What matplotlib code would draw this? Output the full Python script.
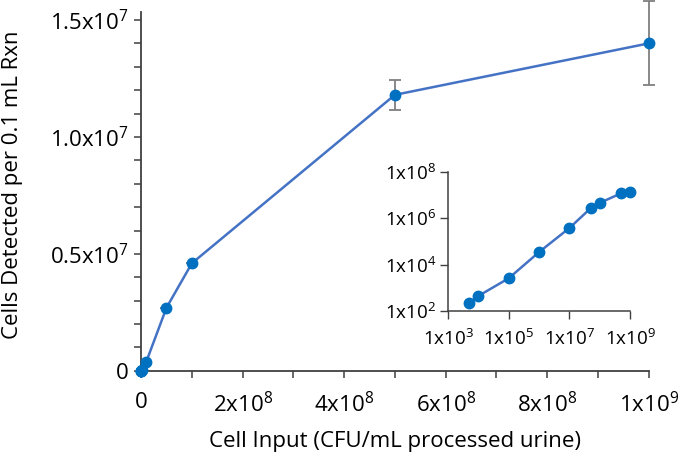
import numpy as np
import matplotlib
matplotlib.use("Agg")
import matplotlib.pyplot as plt
from matplotlib.ticker import FixedLocator, MultipleLocator, NullLocator

plt.rcParams['font.family'] = ['Open Sans', 'DejaVu Sans']
plt.rcParams['mathtext.default'] = 'regular'

# data
cell_input = [5e3, 1e4, 1e5, 1e6, 1e7, 5e7, 1e8, 5e8, 1e9]
cells_detected = [220, 450, 2600, 3.5e4, 3.8e5, 2.7e6, 4.6e6, 1.18e7, 1.4e7]
cells_err = [0, 0, 0, 0, 0, 0, 0, 0.65e6, 1.8e6]

main_xticks = [0, 2e8, 4e8, 6e8, 8e8, 1e9]
main_xlabels = ['0', '2x10$^{8}$', '4x10$^{8}$', '6x10$^{8}$', '8x10$^{8}$', '1x10$^{9}$']
main_yticks = [0, 0.5e7, 1.0e7, 1.5e7]
main_ylabels = ['0', '0.5x10$^{7}$', '1.0x10$^{7}$', '1.5x10$^{7}$']

inset_xticks = [1e3, 1e5, 1e7, 1e9]
inset_xlabels = ['1x10$^{3}$', '1x10$^{5}$', '1x10$^{7}$', '1x10$^{9}$']
inset_yticks = [1e2, 1e4, 1e6, 1e8]
inset_ylabels = ['1x10$^{2}$', '1x10$^{4}$', '1x10$^{6}$', '1x10$^{8}$']

line_color = '#4472C4'
dot_color = '#0070C0'
axis_color = '#404040'
fs = 16

fig = plt.figure(figsize=(6.85, 4.63), dpi=100)
ax = fig.add_axes([0.206, 0.199, 0.741, 0.775])

ax.errorbar(cell_input, cells_detected, yerr=cells_err, fmt='none',
            ecolor='#7f7f7f', elinewidth=1.3, capsize=4, capthick=1.3,
            clip_on=False, zorder=2)
ax.plot(cell_input, cells_detected, color=line_color, lw=1.8, zorder=3, clip_on=False)
ax.plot(cell_input, cells_detected, 'o', color=dot_color, ms=7.5, zorder=4, clip_on=False)

ax.set_xlim(0, 1e9)
ax.set_ylim(0, 1.534e7)
ax.set_xticks(main_xticks)
ax.set_xticklabels(main_xlabels)
ax.xaxis.set_minor_locator(MultipleLocator(1e8))
ax.set_yticks(main_yticks)
ax.set_yticklabels(main_ylabels)
ax.yaxis.set_minor_locator(MultipleLocator(1e6))

for s in ['top', 'right']:
    ax.spines[s].set_visible(False)
for s in ['left', 'bottom']:
    ax.spines[s].set_color(axis_color)
    ax.spines[s].set_linewidth(1.3)
ax.tick_params(which='both', direction='out', length=5, width=1.1, color=axis_color,
               labelsize=fs, labelcolor='black')
ax.tick_params(axis='x', pad=10)
ax.tick_params(axis='y', pad=4)

ax.set_xlabel('Cell Input (CFU/mL processed urine)', fontsize=fs)
ax.set_ylabel('Cells Detected per 0.1 mL Rxn', fontsize=fs)
ax.xaxis.set_label_coords(0.5, -0.168)
ax.yaxis.set_label_coords(-0.232, 0.52)

# inset on log scales
ins = fig.add_axes([0.654, 0.328, 0.266, 0.301])
ins.plot(cell_input, cells_detected, color=line_color, lw=1.8, zorder=3)
ins.plot(cell_input, cells_detected, 'o', color=dot_color, ms=7.5, zorder=4, clip_on=False)
ins.set_xscale('log')
ins.set_yscale('log')
ins.set_xlim(1e3, 1e9)
ins.set_ylim(1e2, 1e8)
ins.xaxis.set_major_locator(FixedLocator(inset_xticks))
ins.xaxis.set_minor_locator(NullLocator())
ins.set_xticklabels(inset_xlabels)
ins.yaxis.set_major_locator(FixedLocator(inset_yticks))
ins.yaxis.set_minor_locator(NullLocator())
ins.set_yticklabels(inset_ylabels)
ins.patch.set_alpha(0)
for s in ['top', 'right']:
    ins.spines[s].set_visible(False)
for s in ['left', 'bottom']:
    ins.spines[s].set_color(axis_color)
    ins.spines[s].set_linewidth(1.1)
ins.tick_params(direction='out', length=5.5, width=1.0, color=axis_color, labelsize=13.5)
ins.tick_params(axis='x', pad=7)
ins.tick_params(axis='y', pad=3)

fig.savefig('out.png', dpi=100)
